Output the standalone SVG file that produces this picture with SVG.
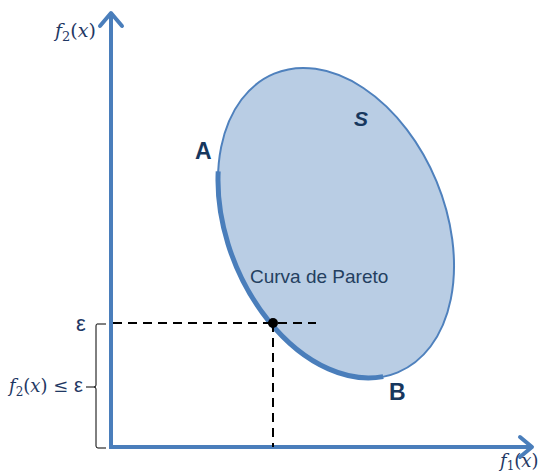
<svg xmlns="http://www.w3.org/2000/svg" width="548" height="476" viewBox="0 0 548 476">
<style>
.axis{stroke:#4a7ebb;stroke-width:4;fill:none;stroke-linecap:square}
.head{stroke:#4a7ebb;stroke-width:4;fill:none;stroke-linecap:round;stroke-linejoin:round}
.dash{stroke:#000;stroke-width:2;stroke-dasharray:9 6;fill:none}
.math{font-family:"DejaVu Serif","Liberation Serif",serif;font-style:italic;fill:#1f3864}
.lbl{font-family:"Liberation Sans",Arial,sans-serif;font-weight:bold;fill:#17375e}
</style>
<rect width="548" height="476" fill="#fff"/>
<g id="region-S">
<ellipse cx="336" cy="223" rx="161.6" ry="108.8" transform="rotate(67.5 336 223)" fill="#b9cde4" stroke="#4f81bd" stroke-width="2"/>
</g>
<g id="pareto-curve">
<path d="M218.2,171.4 A161.6 108.8 67.5 0 0 383.2,376.6" fill="none" stroke="#4a7ebb" stroke-width="5"/>
</g>
<g id="connectors">
<line class="axis" x1="111" y1="447" x2="111" y2="16"/>
<polyline class="head" points="100,26 111,13 122,26"/>
<line class="axis" x1="111" y1="447" x2="529" y2="447"/>
<polyline class="head" points="520,437 532,447 520,457"/>
<line class="dash" x1="113" y1="323" x2="316" y2="323"/>
<line class="dash" x1="273" y1="323" x2="273" y2="447"/>
<path d="M106,324 H97 Q96,324 96,326 V385 Q96,387 94,387 H86 M94,387 Q96,387 96,389 V446 Q96,448 98,448 H106" fill="none" stroke="#000" stroke-width="1"/>
</g>
<g id="point">
<circle cx="273" cy="323" r="5" fill="#000"/>
</g>
<g id="labels">
<text class="math" x="55" y="37" font-size="19">f<tspan font-size="13" dy="4" font-style="normal">2</tspan><tspan dy="-4" font-style="normal">(</tspan>x<tspan font-style="normal">)</tspan></text>
<text class="math" x="500" y="467" font-size="18">f<tspan font-size="12" dy="3" font-style="normal">1</tspan><tspan dy="-3" font-style="normal">(</tspan>x<tspan font-style="normal">)</tspan></text>
<text x="76" y="331" font-family="'Liberation Sans',Arial,sans-serif" font-size="22" fill="#1f3864">ε</text>
<text class="math" x="9" y="392" font-size="18">f<tspan font-size="12" dy="4" font-style="normal">2</tspan><tspan dy="-4" font-style="normal">(</tspan>x<tspan font-style="normal">) ≤ </tspan><tspan font-family="'Liberation Sans',Arial,sans-serif" font-style="normal" font-size="20">ε</tspan></text>
<text class="lbl" x="195" y="159" font-size="23">A</text>
<text class="lbl" x="389" y="400" font-size="23">B</text>
<text class="lbl" x="354" y="126" font-size="21" font-style="italic">S</text>
<text x="250" y="283" font-family="'Liberation Sans',Arial,sans-serif" font-size="19" fill="#243f60">Curva de Pareto</text>
</g>
</svg>
